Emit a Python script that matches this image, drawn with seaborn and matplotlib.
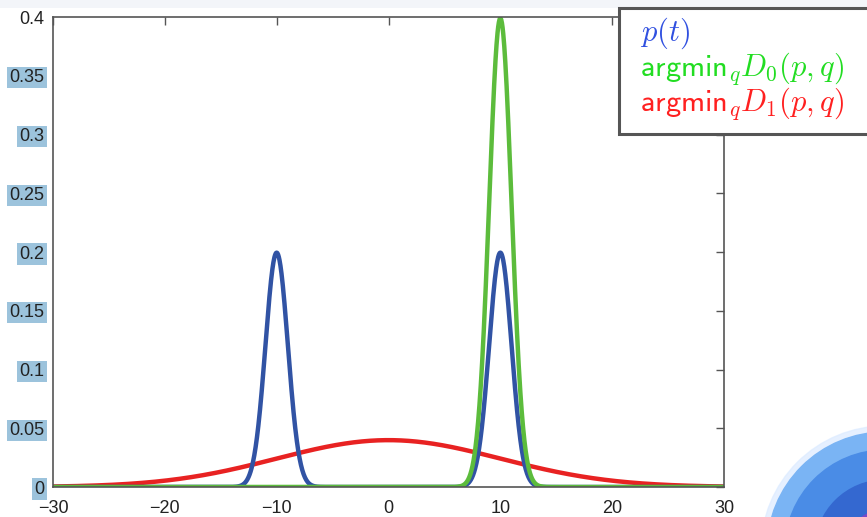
import numpy as np
import pandas as pd
import seaborn as sns
import matplotlib
matplotlib.use("Agg")
from matplotlib import pyplot as plt
from matplotlib.patches import Circle, Rectangle


# # Data (Gaussian components: mean, sigma, weight)

p_means = [-10, 10]
p_sigmas = [1.0, 1.0]
p_weights = [0.5, 0.5]

q0_means = [10]
q0_sigmas = [1.0]
q0_weights = [1.0]

q1_means = [0]
q1_sigmas = [10.0]
q1_weights = [1.0]

x_range = [-30, 30]
y_ticks = [0, 0.05, 0.1, 0.15, 0.2, 0.25, 0.3, 0.35, 0.4]
y_labels = ["0", "0.05", "0.1", "0.15", "0.2", "0.25", "0.3", "0.35", "0.4"]
x_ticks = [-30, -20, -10, 0, 10, 20, 30]
x_labels = ["\u221230", "\u221220", "\u221210", "0", "10", "20", "30"]

legend_labels = [r"$p(t)$",
                 r"$\mathsf{argmin}_q D_0(p,q)$",
                 r"$\mathsf{argmin}_q D_1(p,q)$"]


def mixture(x, means, sigmas, weights):
    y = np.zeros_like(x)
    for m, s, w in zip(means, sigmas, weights):
        y += w * np.exp(-0.5 * ((x - m) / s) ** 2) / (s * np.sqrt(2 * np.pi))
    return y


x = np.linspace(x_range[0], x_range[1], 2001)
df = pd.concat([
    pd.DataFrame({"x": x, "y": mixture(x, q1_means, q1_sigmas, q1_weights), "curve": "q1"}),
    pd.DataFrame({"x": x, "y": mixture(x, p_means, p_sigmas, p_weights), "curve": "p"}),
    pd.DataFrame({"x": x, "y": mixture(x, q0_means, q0_sigmas, q0_weights), "curve": "q0"}),
])

sns.set_style("white")
plt.rcParams["font.family"] = ["Liberation Sans", "DejaVu Sans"]
plt.rcParams["mathtext.fontset"] = "cm"

fig = plt.figure(figsize=(8.67, 5.17), dpi=100)

# faint band at the top of the slide
band = fig.add_axes([0, 0.985, 1, 0.015])
band.axis("off")
band.add_patch(Rectangle((0, 0), 1, 1, color="#f3f5f9", transform=band.transAxes))

ax = fig.add_axes([0.0611, 0.058, 0.7740, 0.909])
palette = {"q1": "#e82222", "p": "#3153a4", "q0": "#5cbc3c"}
sns.lineplot(data=df, x="x", y="y", hue="curve", palette=palette,
             linewidth=3.2, legend=False, ax=ax, sort=False)

ax.set_xlim(x_range)
ax.set_ylim(0, 0.4)
ax.set_xlabel("")
ax.set_ylabel("")
ax.set_xticks(x_ticks)
ax.set_xticklabels(x_labels, fontsize=13, color="#222222")
ax.set_yticks(y_ticks)
ax.set_yticklabels(y_labels, fontsize=13, color="#222222")
ax.tick_params(direction="in", length=6, top=True, right=True, width=1, color="#555555")
ax.tick_params(axis="x", pad=9)
ax.tick_params(axis="y", pad=6)
for lab in ax.get_yticklabels()[:-1]:
    lab.set_bbox(dict(facecolor="#9cc3dc", edgecolor="none", pad=1.5))
for sp in ax.spines.values():
    sp.set_color("#555555")
    sp.set_linewidth(1.2)

# legend box
lx0, ly0 = 619 / 867, 1 - 134 / 517
box = Rectangle((lx0, ly0), 0.3, 126 / 517, transform=fig.transFigure,
                facecolor="white", edgecolor="#555555", linewidth=2.2, zorder=5)
fig.patches.append(box)
leg_colors = ["#3050e0", "#22dd22", "#ff2020"]
for i, (lab, c) in enumerate(zip(legend_labels, leg_colors)):
    fig.text(640 / 867, 1 - (33 + 35.5 * i) / 517, lab, color=c, fontsize=22,
             va="center", ha="left", zorder=6,
             family=["Liberation Sans", "DejaVu Sans"])

# globe decoration bottom right
gax = fig.add_axes([745 / 867, 0, 122 / 867, 100 / 517])
gax.set_xlim(0, 122)
gax.set_ylim(0, 100)
gax.axis("off")
for r, c, a in [(124, "#dcebff", 0.7), (118, "#7ab4f4", 1.0), (100, "#4a8ce6", 1.0),
                (70, "#3468d0", 1.0), (40, "#7a48c8", 1.0)]:
    gax.add_patch(Circle((140, -33), r, color=c, alpha=a, clip_on=True))

fig.savefig("out.png", dpi=100)
